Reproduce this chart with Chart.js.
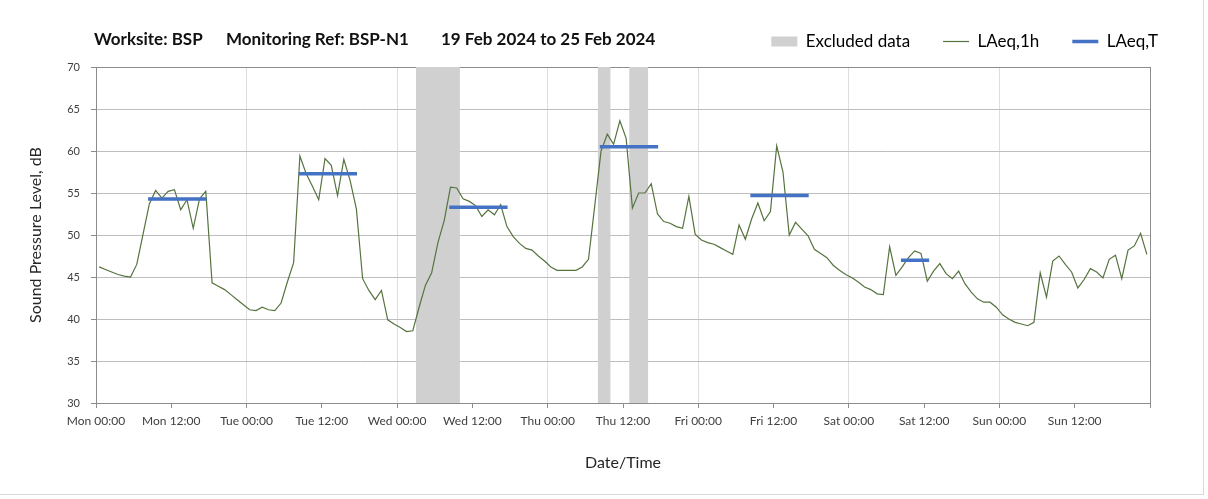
<!DOCTYPE html>
<html>
<head>
<meta charset="utf-8">
<script src="https://cdn.jsdelivr.net/npm/chart.js@4.4.1/dist/chart.umd.min.js"></script>
<style>
  html, body { margin: 0; padding: 0; background: #fff; }
  #wrap { width: 1208px; height: 499px; position: relative; }
  #frame { position: absolute; left: 0; top: 0; width: 1203px; height: 494px;
           border-right: 1px solid #d9d9d9; border-bottom: 1px solid #d9d9d9; pointer-events: none; }
</style>
</head>
<body>
<div id="wrap"><canvas id="chart" width="1208" height="499"></canvas><div id="frame"></div></div>
<script>
/* global Chart */

// Hlavička grafu
const titleParts = ['Worksite: BSP', 'Monitoring Ref: BSP-N1', '19 Feb 2024 to 25 Feb 2024'];

// Popisky osy X (každých 12 h od pondělí 00:00)
const xTickLabels = [
    'Mon 00:00', 'Mon 12:00', 'Tue 00:00', 'Tue 12:00', 'Wed 00:00', 'Wed 12:00',
    'Thu 00:00', 'Thu 12:00', 'Fri 00:00', 'Fri 12:00', 'Sat 00:00', 'Sat 12:00',
    'Sun 00:00', 'Sun 12:00'
];

// LAeq,1h - hodinové hodnoty (dB), hodina 0 = Mon 00:00
const laeq1h = [
    46.2, 45.9, 45.6, 45.3, 45.1, 45.0, 46.5, 50.1, 53.7, 55.3, 54.4, 55.2,
    55.4, 53.0, 54.2, 50.8, 54.3, 55.2, 44.3, 43.9, 43.5, 42.9, 42.3, 41.7,
    41.1, 41.0, 41.4, 41.1, 41.0, 41.9, 44.4, 46.7, 59.4, 57.3, 55.8, 54.2,
    59.1, 58.3, 54.7, 59.0, 56.5, 53.1, 44.8, 43.4, 42.3, 43.4, 39.9, 39.4,
    39.0, 38.5, 38.6, 41.4, 44.0, 45.5, 49.1, 51.7, 55.7, 55.6, 54.3, 54.0,
    53.5, 52.2, 53.0, 52.4, 53.6, 51.0, 49.8, 49.0, 48.4, 48.2, 47.5, 46.9,
    46.2, 45.8, 45.8, 45.8, 45.8, 46.2, 47.1, 53.5, 60.0, 62.0, 60.8, 63.6,
    61.5, 53.2, 55.0, 55.0, 56.1, 52.5, 51.6, 51.4, 51.0, 50.8, 54.6, 50.1,
    49.4, 49.1, 48.9, 48.5, 48.1, 47.7, 51.2, 49.5, 51.9, 53.8, 51.7, 52.8,
    60.6, 57.5, 50.0, 51.5, 50.7, 49.9, 48.3, 47.8, 47.3, 46.4, 45.8, 45.3,
    44.9, 44.4, 43.8, 43.5, 43.0, 42.9, 48.6, 45.2, 46.2, 47.3, 48.1, 47.8,
    44.5, 45.7, 46.6, 45.4, 44.8, 45.7, 44.2, 43.2, 42.4, 42.0, 42.0, 41.4,
    40.5, 40.0, 39.6, 39.4, 39.2, 39.6, 45.5, 42.6, 46.9, 47.5, 46.5, 45.6,
    43.7, 44.7, 46.0, 45.6, 44.9, 47.1, 47.6, 44.8, 48.2, 48.7, 50.2, 47.7
];

// LAeq,T - denní periody (hodiny od začátku týdne)
const periodStart = [8.3, 32.3, 56.3, 80.3, 104.3, 128.3];
const periodEnd   = [17.6, 41.6, 65.6, 89.6, 113.6, 132.8];
const periodLevel = [54.3, 57.3, 53.3, 60.5, 54.7, 47.0];

// Vyřazená data (hodiny od začátku týdne)
const excludedStart = [51, 80, 85];
const excludedEnd   = [58, 82, 88];

const GREEN = '#56733f';
const BLUE = '#4472c4';
const EXCLUDED = '#d0d0d0';
const AXIS = '#8c8c8c';
const TEXT = '#262626';
const FONT = 'Lato';

const hourlyPoints = laeq1h.map((v, i) => ({ x: i + 0.5, y: v }));

const periodPoints = [];
periodStart.forEach((s, i) => {
    periodPoints.push({ x: s, y: periodLevel[i] });
    periodPoints.push({ x: periodEnd[i], y: periodLevel[i] });
    periodPoints.push({ x: periodEnd[i] + 0.1, y: null });
});

// Plugin: šedé plochy pro vyřazená data
const excludedBands = {
    id: 'excludedBands',
    beforeDatasetsDraw(chart) {
        const { ctx, chartArea, scales: { x } } = chart;
        ctx.save();
        ctx.fillStyle = EXCLUDED;
        excludedStart.forEach((s, i) => {
            const x1 = x.getPixelForValue(s);
            const x2 = x.getPixelForValue(excludedEnd[i]);
            ctx.fillRect(x1, chartArea.top, x2 - x1, chartArea.bottom - chartArea.top);
        });
        ctx.restore();
    }
};

// Plugin: hlavička vlevo nahoře
const headerText = {
    id: 'headerText',
    afterDraw(chart) {
        const { ctx } = chart;
        const xs = [94, 226, 441];
        ctx.save();
        ctx.font = 'bold 17px ' + FONT;
        ctx.fillStyle = '#111';
        ctx.textBaseline = 'alphabetic';
        titleParts.forEach((t, i) => ctx.fillText(t, xs[i], 45));
        ctx.restore();
    }
};

new Chart(document.getElementById('chart'), {
    type: 'line',
    data: {
        datasets: [
            {
                label: 'LAeq,T',
                data: periodPoints,
                borderColor: BLUE,
                borderWidth: 3.5,
                pointRadius: 0,
                spanGaps: false,
                order: 0
            },
            {
                label: 'LAeq,1h',
                data: hourlyPoints,
                borderColor: GREEN,
                borderWidth: 1.2,
                pointRadius: 0,
                tension: 0,
                order: 1
            }
        ]
    },
    options: {
        responsive: false,
        animation: false,
        devicePixelRatio: 1,
        layout: { padding: { left: 0, right: 17, top: 0, bottom: 0 } },
        plugins: {
            tooltip: { enabled: false },
            legend: {
                position: 'top',
                align: 'end',
                labels: {
                    font: { family: FONT, size: 17 },
                    color: TEXT,
                    padding: 33,
                    usePointStyle: true,
                    pointStyleWidth: 26,
                    boxHeight: 10,
                    generateLabels: () => [
                        { text: 'Excluded data', fillStyle: EXCLUDED, strokeStyle: EXCLUDED, lineWidth: 0, pointStyle: 'rect', hidden: false },
                        { text: 'LAeq,1h', fillStyle: GREEN, strokeStyle: GREEN, lineWidth: 1.2, pointStyle: 'line', hidden: false },
                        { text: 'LAeq,T', fillStyle: BLUE, strokeStyle: BLUE, lineWidth: 3.5, pointStyle: 'line', hidden: false }
                    ]
                }
            }
        },
        scales: {
            x: {
                type: 'linear',
                position: 'bottom',
                min: 0,
                max: 168,
                afterFit: (s) => { s.height = 96; },
                ticks: {
                    stepSize: 12,
                    autoSkip: false,
                    maxRotation: 0,
                    padding: 6,
                    color: '#404040',
                    font: { family: FONT, size: 12 },
                    callback: (v) => xTickLabels[v / 12] || ''
                },
                grid: {
                    color: (c) => (c.tick && c.tick.value % 24 === 0 ? '#dedede' : 'rgba(0,0,0,0)'),
                    tickColor: AXIS,
                    tickLength: 5
                },
                border: { color: AXIS },
                title: {
                    display: true,
                    text: 'Date/Time',
                    color: TEXT,
                    font: { family: FONT, size: 16 },
                    padding: { top: 0, bottom: 27 }
                }
            },
            xTop: {
                type: 'linear',
                position: 'top',
                min: 0,
                max: 168,
                afterFit: (s) => { s.height = 7; },
                ticks: { display: false },
                grid: { display: false },
                border: { color: AXIS }
            },
            y: {
                position: 'left',
                min: 30,
                max: 70,
                afterFit: (s) => { s.width = 96; },
                ticks: {
                    stepSize: 5,
                    padding: 11,
                    color: '#404040',
                    font: { family: FONT, size: 11 }
                },
                grid: {
                    color: '#bdbdbd',
                    tickColor: AXIS,
                    tickLength: 5
                },
                border: { color: AXIS },
                title: {
                    display: true,
                    text: 'Sound Pressure Level, dB',
                    color: TEXT,
                    font: { family: FONT, size: 16 },
                    padding: { top: 26, bottom: 0 }
                }
            },
            yR: {
                position: 'right',
                min: 30,
                max: 70,
                afterFit: (s) => { s.width = 41; },
                ticks: { display: false },
                grid: { display: false },
                border: { color: AXIS }
            }
        }
    },
    plugins: [excludedBands, headerText]
});
</script>
</body>
</html>
